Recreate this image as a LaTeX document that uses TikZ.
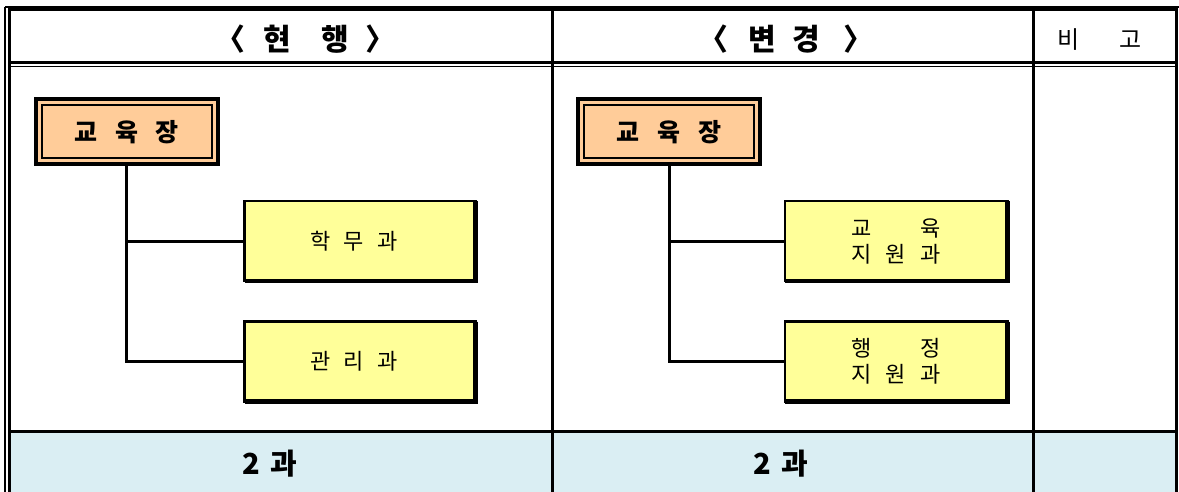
\documentclass[tikz,border=0pt]{standalone}
\usepackage{fontspec}
\setmainfont{Noto Sans CJK KR}
\definecolor{bossfill}{HTML}{FFCC99}
\definecolor{deptfill}{HTML}{FFFF99}
\definecolor{footfill}{HTML}{DAEEF3}
\begin{document}
\begin{tikzpicture}[x=1pt,y=-1pt,
  boss/.style={draw,line width=4pt,fill=bossfill,minimum width=182pt,minimum height=65pt,
    outer sep=0pt,inner sep=0pt,font=\bfseries\fontsize{25}{30}\selectfont},
  dept/.style={draw,line width=2.5pt,fill=deptfill,minimum height=80pt,
    outer sep=0pt,inner sep=0pt,font=\fontsize{22}{26}\selectfont,align=center},
  conn/.style={line width=3pt},
  thickrule/.style={line width=3pt},
  thinrule/.style={line width=1.5pt},
  headtxt/.style={font=\bfseries\fontsize{30}{34}\selectfont},
  foottxt/.style={font=\bfseries\fontsize{29}{32}\selectfont}]
\useasboundingbox (0,0) rectangle (1179,492);
% footer fill
\fill[footfill] (10,432) rectangle (1176,492);
% frame
\draw[thinrule] (5,7) -- (1179,7);
\draw[thinrule] (5,7) -- (5,492);
\draw[thickrule] (9.5,10) -- (1178,10);
\draw[thickrule] (9.5,8.5) -- (9.5,492);
\draw[thickrule] (1176.5,8.5) -- (1176.5,492);
\draw[thickrule] (9.5,63) -- (1176.5,63);
\draw[thinrule] (9.5,66.5) -- (1176.5,66.5);
\draw[thickrule] (552.5,10) -- (552.5,492);
\draw[thickrule] (1033,10) -- (1033,492);
\draw[thickrule] (9.5,431.5) -- (1176.5,431.5);
% header texts
\node[headtxt] (hcur) at (305.5,39) {〈\hspace{18pt}현\hspace{30pt}행\hspace{17pt}〉};
\node[headtxt] (hnew) at (786,39) {〈\hspace{20pt}변\hspace{16pt}경\hspace{24pt}〉};
\node[font=\fontsize{24}{28}\selectfont] (hrem) at (1100,40) {비\hspace{40pt}고};
% left org chart
\node[boss] (b1) at (126.5,132) {교\hspace{18pt}육\hspace{18pt}장\hspace{13pt}};
\draw[line width=2pt] ([shift={(6,6)}]b1.north west) rectangle ([shift={(-6,-6)}]b1.south east);
\node[dept,minimum width=231pt] (d1) at (360,241) {학\hspace{13.5pt}무\hspace{13.5pt}과\hspace{12pt}};
\node[dept,minimum width=231pt] (d2) at (360,361.5) {관\hspace{13.5pt}리\hspace{13.5pt}과\hspace{12pt}};
% right org chart
\node[boss] (b2) at (669,132) {교\hspace{18pt}육\hspace{18pt}장\hspace{12pt}};
\draw[line width=2pt] ([shift={(6,6)}]b2.north west) rectangle ([shift={(-6,-6)}]b2.south east);
\node[dept,minimum width=222.5pt] (d3) at (896,241) {교\hspace{49pt}육\hspace{16pt}\\지\hspace{14pt}원\hspace{14pt}과\hspace{16pt}};
\node[dept,minimum width=222.5pt] (d4) at (896,361.5) {행\hspace{49pt}정\hspace{16pt}\\지\hspace{14pt}원\hspace{14pt}과\hspace{16pt}};
% shadow edges
\foreach \n in {d1,d2,d3,d4}{
  \draw[line width=4.5pt,line join=miter] (\n.north east) -- (\n.south east) -- (\n.south west);
}
% connectors
\draw[conn] (b1.south) |- (d1.west);
\draw[conn] (b1.south) |- (d2.west);
\draw[conn] (b2.south) |- (d3.west);
\draw[conn] (b2.south) |- (d4.west);
% footer texts
\node[foottxt] (f1) at (270,464) {2\hspace{10pt}과};
\node[foottxt] (f2) at (781,464) {2\hspace{10pt}과};
\end{tikzpicture}
\end{document}
